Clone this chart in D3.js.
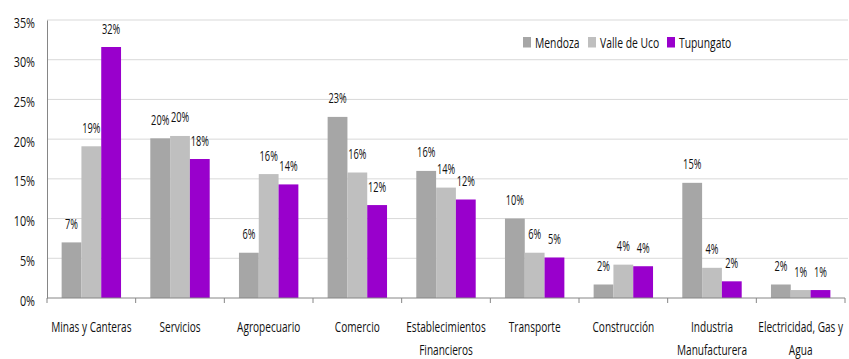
<!DOCTYPE html>
<html><head><meta charset="utf-8">
<script src="https://cdn.jsdelivr.net/npm/d3@7"></script>
<style>body{margin:0;background:#fff}svg{display:block}text{font-family:"Open Sans",sans-serif;fill:#111}</style>
</head><body><svg id="c" width="849" height="359"></svg>
<script>
const categories = ["Minas y Canteras","Servicios","Agropecuario","Comercio","Establecimientos Financieros","Transporte","Construcción","Industria Manufacturera","Electricidad, Gas y Agua"];
const categoryLines = [["Minas y Canteras"],["Servicios"],["Agropecuario"],["Comercio"],["Establecimientos","Financieros"],["Transporte"],["Construcción"],["Industria","Manufacturera"],["Electricidad, Gas y","Agua"]];
const seriesNames = ["Mendoza","Valle de Uco","Tupungato"];
const mendoza = [7.0,20.1,5.7,22.8,16.0,10.0,1.7,14.5,1.7];
const valleDeUco = [19.1,20.4,15.6,15.8,13.9,5.7,4.2,3.8,1.0];
const tupungato = [31.6,17.5,14.3,11.7,12.4,5.1,4.0,2.1,1.0];
const yTicks = [0,5,10,15,20,25,30,35];
const colors = ["#a6a6a6","#bfbfbf","#9900cc"];

const series = [mendoza, valleDeUco, tupungato];
const svg = d3.select("#c");
const mLeft = 47, mRight = 845, mTop = 20, mBottom = 298;
const x0 = d3.scaleBand().domain(categories).range([mLeft,mRight]).paddingInner(0.33).paddingOuter(0.165);
const x1 = d3.scaleBand().domain(seriesNames).range([0,x0.bandwidth()]);
const y = d3.scaleLinear().domain([0,35]).range([mBottom,mTop]);

function label(parent, x, yy, str, size, sx, anchor){
  return parent.append("text")
    .attr("transform",`translate(${x},${yy}) scale(${sx},1)`)
    .attr("text-anchor",anchor||"middle")
    .style("font-size",size+"px")
    .text(str);
}

// gridlines
svg.append("g").selectAll("line").data(yTicks.filter(d=>d>0)).join("line")
  .attr("x1",mLeft).attr("x2",mRight+3).attr("y1",d=>y(d)).attr("y2",d=>y(d))
  .attr("stroke","#d9d9d9").attr("stroke-width",1);

// y axis
const ya = svg.append("g").attr("transform",`translate(${mLeft},0)`)
  .call(d3.axisLeft(y).tickValues(yTicks).tickFormat(d=>d+"%").tickSize(0).tickPadding(12));
ya.select(".domain").attr("stroke","#868686");
ya.selectAll(".tick text").each(function(d){
  const t = d3.select(this);
  t.attr("x",null).attr("dy",null).attr("fill",null)
   .attr("transform",`translate(-12,7) scale(0.72,1)`)
   .style("font-size","15px").style("font-family","'Open Sans',sans-serif")
   .attr("text-anchor","end");
});
ya.attr("font-family",null).attr("font-size",null);

// bars
const g = svg.append("g");
series.forEach((vals,si)=>{
  g.append("g").selectAll("rect").data(vals).join("rect")
    .attr("x",(d,i)=>x0(categories[i])+x1(seriesNames[si]))
    .attr("width",x1.bandwidth())
    .attr("y",d=>y(d)).attr("height",d=>mBottom-y(d))
    .attr("fill",colors[si]);
  const lg = g.append("g");
  vals.forEach((d,i)=>{
    label(lg, x0(categories[i])+x1(seriesNames[si])+x1.bandwidth()/2, y(d)-13.5, Math.round(d)+"%", 14, 0.66);
  });
});

// x axis
const xa = svg.append("g");
xa.append("line").attr("x1",mLeft).attr("x2",mRight).attr("y1",mBottom).attr("y2",mBottom).attr("stroke","#868686");
const bounds = categories.map(c=>x0(c)-x0.step()*x0.paddingInner()/2);
bounds.push(mRight);
xa.selectAll("line.t").data(bounds).join("line").attr("class","t")
  .attr("x1",d=>d).attr("x2",d=>d).attr("y1",mBottom).attr("y2",mBottom+5).attr("stroke","#868686");
categories.forEach((c,i)=>{
  const cx = x0(c)+x0.bandwidth()/2;
  categoryLines[i].forEach((ln,j)=>{
    label(xa, cx, 332+j*22.5, ln, 14, 0.72);
  });
});

// legend
const lgd = svg.append("g");
const lx = [523,588,667];
seriesNames.forEach((n,i)=>{
  lgd.append("rect").attr("x",lx[i]).attr("y",37).attr("width",8).attr("height",10.5).attr("fill",colors[i]);
  label(lgd, lx[i]+12, 47.5, n, 14, 0.74, "start");
});
</script></body></html>
